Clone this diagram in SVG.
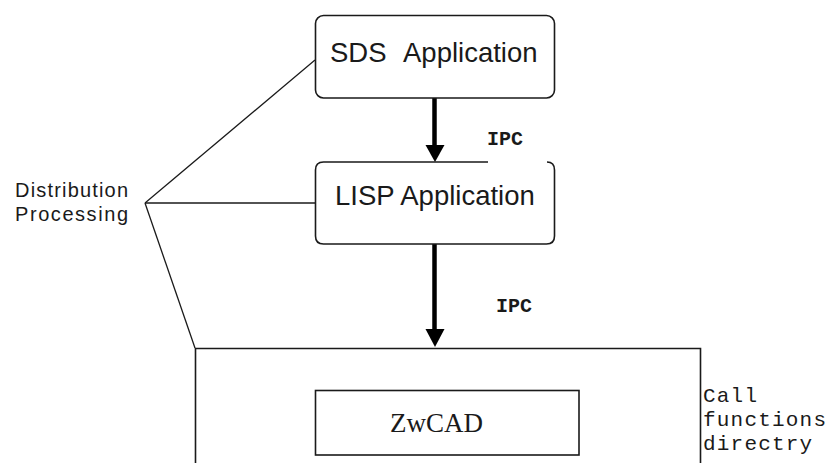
<svg xmlns="http://www.w3.org/2000/svg" width="831" height="463" viewBox="0 0 831 463">
<style>
.box{fill:none;stroke:#1a1a1a;stroke-width:1.6}
.thin{fill:none;stroke:#1a1a1a;stroke-width:1.3}
.sans{font-family:"Liberation Sans",Arial,sans-serif;fill:#1a1a1a}
.mono{font-family:"Liberation Mono","Courier New",monospace;fill:#1a1a1a}
.serif{font-family:"Liberation Serif","Times New Roman",serif;fill:#1a1a1a}
.shaft{stroke:#000;stroke-width:4.5}
.head{fill:#000}
</style>
<rect width="831" height="463" fill="#fff"/>
<g id="connectors">
<line class="thin" x1="145" y1="203" x2="315" y2="60"/>
<line class="thin" x1="145" y1="203" x2="315" y2="203"/>
<line class="thin" x1="145" y1="203" x2="195" y2="348"/>
<line class="shaft" x1="434.5" y1="98" x2="434.5" y2="147"/>
<polygon class="head" points="425.5,145 444.5,145 435,162"/>
<line class="shaft" x1="434.5" y1="244" x2="434.5" y2="331"/>
<polygon class="head" points="425.5,329 444.5,329 435,347"/>
<text class="mono" x="487" y="145" font-size="20" font-weight="bold">IPC</text>
<text class="mono" x="496" y="312" font-size="20" font-weight="bold">IPC</text>
</g>
<g id="sds">
<rect class="box" x="315.5" y="15.5" width="239" height="82.5" rx="8"/>
<text class="sans" x="330" y="62" font-size="27.5">SDS</text>
<text class="sans" x="403" y="62" font-size="27.5">Application</text>
</g>
<g id="lisp">
<path class="box" d="M488,162 H323.5 Q315.5,162 315.5,170 V236 Q315.5,244 323.5,244 H546.5 Q554.5,244 554.5,236 V170 Q554.5,162 547,162"/>
<text class="sans" x="335" y="205" font-size="27.5">LISP Application</text>
</g>
<g id="distribution">
<text class="sans" x="15" y="197" font-size="20" textLength="113" lengthAdjust="spacing">Distribution</text>
<text class="sans" x="15" y="221" font-size="20" textLength="113" lengthAdjust="spacing">Processing</text>
</g>
<g id="zwcad-host">
<path class="box" d="M195.5,470 V348.5 H700.5 V470"/>
</g>
<g id="zwcad">
<rect class="box" x="315.5" y="390.5" width="263.5" height="64.5"/>
<text class="serif" x="390" y="432" font-size="27">ZwCAD</text>
</g>
<g id="call-functions">
<text class="mono" x="703" y="402" font-size="21" letter-spacing="1.2">Call</text>
<text class="mono" x="703" y="426" font-size="21" letter-spacing="1.2">functions</text>
<text class="mono" x="703" y="450" font-size="21" letter-spacing="1.2">directry</text>
</g>
</svg>
